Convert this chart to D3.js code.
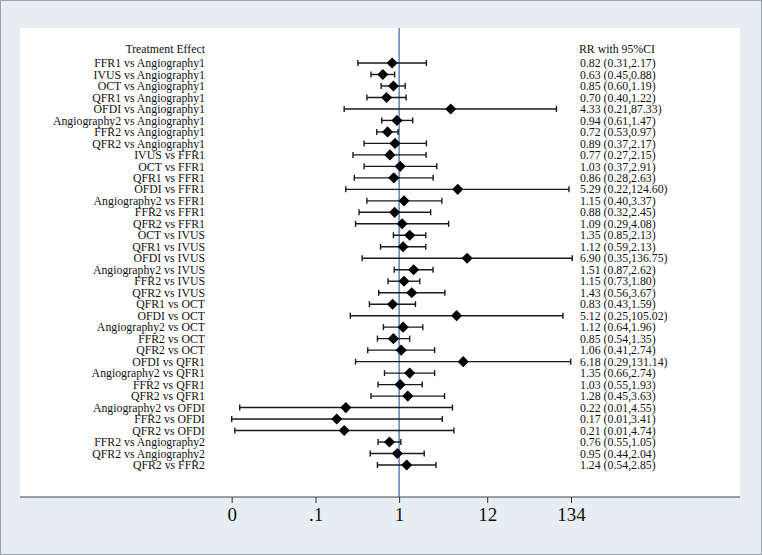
<!DOCTYPE html>
<meta charset="utf-8">
<script src="https://d3js.org/d3.v7.min.js"></script>
<style>
  body { margin: 0; }
  text { font-family: "Liberation Serif", "Times New Roman", serif; fill: #111; }
</style>
<body>
<div id="my_dataviz"></div>
<script>
    // comparisons, top to bottom
    var labels = [
        "FFR1 vs Angiography1", "IVUS vs Angiography1", "OCT vs Angiography1", "QFR1 vs Angiography1",
        "OFDI vs Angiography1", "Angiography2 vs Angiography1", "FFR2 vs Angiography1", "QFR2 vs Angiography1",
        "IVUS vs FFR1", "OCT vs FFR1", "QFR1 vs FFR1", "OFDI vs FFR1", "Angiography2 vs FFR1",
        "FFR2 vs FFR1", "QFR2 vs FFR1", "OCT vs IVUS", "QFR1 vs IVUS", "OFDI vs IVUS",
        "Angiography2 vs IVUS", "FFR2 vs IVUS", "QFR2 vs IVUS", "QFR1 vs OCT", "OFDI vs OCT",
        "Angiography2 vs OCT", "FFR2 vs OCT", "QFR2 vs OCT", "OFDI vs QFR1", "Angiography2 vs QFR1",
        "FFR2 vs QFR1", "QFR2 vs QFR1", "Angiography2 vs OFDI", "FFR2 vs OFDI", "QFR2 vs OFDI",
        "FFR2 vs Angiography2", "QFR2 vs Angiography2", "QFR2 vs FFR2"
    ];
    var rr = [0.82, 0.63, 0.85, 0.70, 4.33, 0.94, 0.72, 0.89, 0.77, 1.03, 0.86, 5.29, 1.15, 0.88, 1.09,
        1.35, 1.12, 6.90, 1.51, 1.15, 1.43, 0.83, 5.12, 1.12, 0.85, 1.06, 6.18, 1.35, 1.03, 1.28,
        0.22, 0.17, 0.21, 0.76, 0.95, 1.24];
    var lower = [0.31, 0.45, 0.60, 0.40, 0.21, 0.61, 0.53, 0.37, 0.27, 0.37, 0.28, 0.22, 0.40, 0.32, 0.29,
        0.85, 0.59, 0.35, 0.87, 0.73, 0.56, 0.43, 0.25, 0.64, 0.54, 0.41, 0.29, 0.66, 0.55, 0.45,
        0.0108, 0.0086, 0.0094, 0.55, 0.44, 0.54];
    var upper = [2.17, 0.88, 1.19, 1.22, 87.33, 1.47, 0.97, 2.17, 2.15, 2.91, 2.63, 124.60, 3.37, 2.45, 4.08,
        2.13, 2.13, 136.75, 2.62, 1.80, 3.67, 1.59, 105.02, 1.96, 1.35, 2.74, 131.14, 2.74, 1.93, 3.63,
        4.55, 3.41, 4.74, 1.05, 2.04, 2.85];
    var tickValues = [0.0086, 0.093, 1, 12.2, 132];
    var tickLabels = ["0", ".1", "1", "12", "134"];

    var W = 762, H = 555;
    var plot = {left: 20, right: 740, top: 28, bottom: 497};

    var svg = d3.select("#my_dataviz")
        .append("svg")
        .attr("width", W)
        .attr("height", H);

    // graph region and plot region
    svg.append("rect").attr("width", W).attr("height", H).attr("fill", "#e7eef3");
    svg.append("rect").attr("x", 0.5).attr("y", 0.5).attr("width", W - 1).attr("height", H - 1)
        .attr("fill", "none").attr("stroke", "#9aa3a8");
    svg.append("rect")
        .attr("x", plot.left).attr("y", plot.top)
        .attr("width", plot.right - plot.left).attr("height", plot.bottom - plot.top)
        .attr("fill", "white");

    var x = d3.scaleLog()
        .domain([tickValues[0], tickValues[tickValues.length - 1]])
        .range([231.7, 571]);

    var y = d3.scalePoint()
        .domain(d3.range(labels.length))
        .range([63, 465]);

    // reference line at RR = 1
    svg.append("line")
        .attr("x1", x(1)).attr("x2", x(1))
        .attr("y1", plot.top).attr("y2", plot.bottom)
        .attr("stroke", "#3e62a0").attr("stroke-width", 1.2);

    // x axis
    var axis = svg.append("g")
        .attr("transform", "translate(0," + plot.bottom + ")")
        .call(d3.axisBottom(x)
            .tickValues(tickValues)
            .tickFormat(function(d, i) { return tickLabels[i]; })
            .tickSize(6)
            .tickPadding(5));
    axis.select(".domain").remove();
    axis.selectAll(".tick line").attr("stroke", "#333");
    axis.selectAll(".tick text")
        .attr("font-family", "Liberation Serif, serif")
        .attr("font-size", 19)
        .attr("fill", "#111");
    svg.append("line")
        .attr("x1", plot.left).attr("x2", plot.right)
        .attr("y1", plot.bottom).attr("y2", plot.bottom)
        .attr("stroke", "#444").attr("stroke-width", 1.2);

    var rows = d3.range(labels.length);

    // confidence intervals
    var ci = svg.append("g").attr("stroke", "#1a1a1a").attr("stroke-width", 1.4);
    ci.selectAll(".whisker").data(rows).enter().append("line")
        .attr("x1", function(i) { return x(lower[i]); })
        .attr("x2", function(i) { return x(upper[i]); })
        .attr("y1", function(i) { return y(i); })
        .attr("y2", function(i) { return y(i); });
    ci.selectAll(".capl").data(rows).enter().append("line")
        .attr("x1", function(i) { return x(lower[i]); })
        .attr("x2", function(i) { return x(lower[i]); })
        .attr("y1", function(i) { return y(i) - 3; })
        .attr("y2", function(i) { return y(i) + 3; });
    ci.selectAll(".capu").data(rows).enter().append("line")
        .attr("x1", function(i) { return x(upper[i]); })
        .attr("x2", function(i) { return x(upper[i]); })
        .attr("y1", function(i) { return y(i) - 3; })
        .attr("y2", function(i) { return y(i) + 3; });

    // point estimates
    svg.append("g").selectAll("path").data(rows).enter().append("path")
        .attr("d", d3.symbol().type(d3.symbolSquare).size(62))
        .attr("transform", function(i) {
            return "translate(" + x(rr[i]) + "," + y(i) + ") rotate(45)";
        })
        .attr("fill", "black");

    // left labels
    svg.append("text")
        .attr("x", 205).attr("y", 48.5).attr("dy", "0.35em")
        .attr("text-anchor", "end").attr("font-size", 11.8)
        .text("Treatment Effect");
    svg.append("g").selectAll("text").data(rows).enter().append("text")
        .attr("x", 205).attr("y", function(i) { return y(i); }).attr("dy", "0.35em")
        .attr("text-anchor", "end").attr("font-size", 11.8)
        .text(function(i) { return labels[i]; });

    // right labels
    var f = d3.format(".2f");
    svg.append("text")
        .attr("x", 579).attr("y", 48.5).attr("dy", "0.35em")
        .attr("font-size", 11.8)
        .text("RR with 95%CI");
    svg.append("g").selectAll("text").data(rows).enter().append("text")
        .attr("x", 580).attr("y", function(i) { return y(i); }).attr("dy", "0.35em")
        .attr("font-size", 11.8)
        .text(function(i) { return f(rr[i]) + " (" + f(lower[i]) + "," + f(upper[i]) + ")"; });
</script>
</body>
